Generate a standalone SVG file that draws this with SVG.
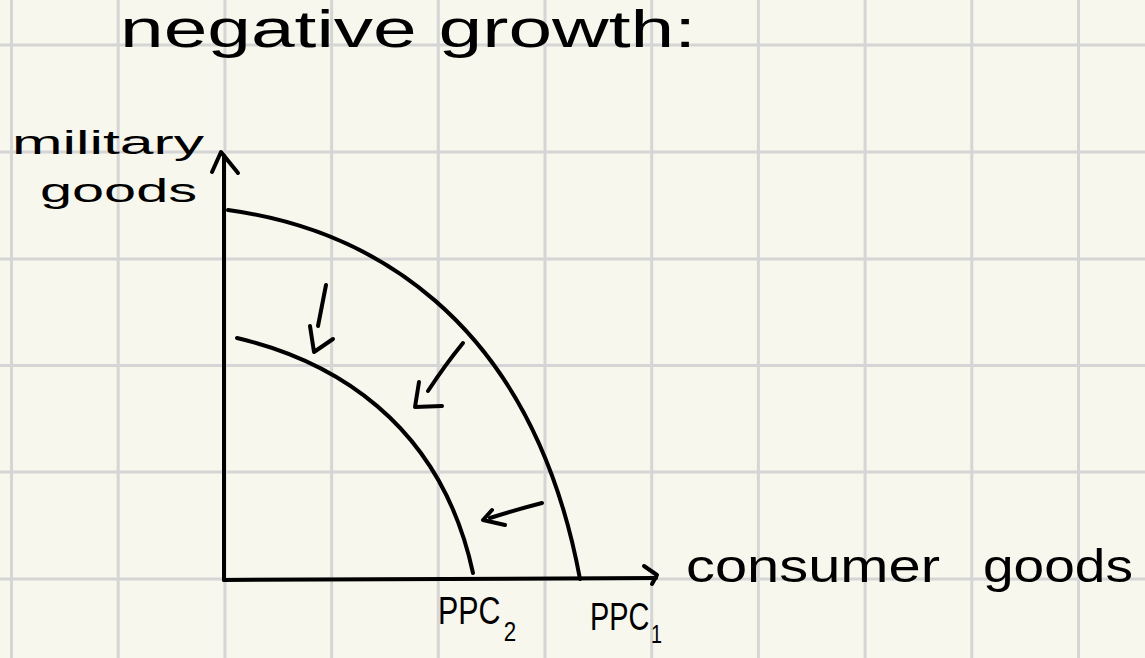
<svg xmlns="http://www.w3.org/2000/svg" width="1145" height="658" viewBox="0 0 1145 658">
  <style>
    .grid line { stroke: #d5d5d5; stroke-width: 3; }
    .ink { fill: none; stroke: #000; stroke-width: 4; stroke-linecap: round; stroke-linejoin: round; }
    .hand { font-family: "Liberation Sans", "Open Sans", sans-serif; fill: #000; font-weight: 400; }
  </style>
  <rect x="0" y="0" width="1145" height="658" fill="#f7f7ed"/>
  <g class="grid" id="grid">
    <line x1="11.5" y1="0" x2="11.5" y2="658"/>
    <line x1="118.2" y1="0" x2="118.2" y2="658"/>
    <line x1="224.9" y1="0" x2="224.9" y2="658"/>
    <line x1="331.6" y1="0" x2="331.6" y2="658"/>
    <line x1="438.3" y1="0" x2="438.3" y2="658"/>
    <line x1="545" y1="0" x2="545" y2="658"/>
    <line x1="651.7" y1="0" x2="651.7" y2="658"/>
    <line x1="758.4" y1="0" x2="758.4" y2="658"/>
    <line x1="865.1" y1="0" x2="865.1" y2="658"/>
    <line x1="971.8" y1="0" x2="971.8" y2="658"/>
    <line x1="1078.5" y1="0" x2="1078.5" y2="658"/>
    <line x1="0" y1="45" x2="1145" y2="45"/>
    <line x1="0" y1="152" x2="1145" y2="152"/>
    <line x1="0" y1="259" x2="1145" y2="259"/>
    <line x1="0" y1="365.5" x2="1145" y2="365.5"/>
    <line x1="0" y1="472" x2="1145" y2="472"/>
    <line x1="0" y1="579" x2="1145" y2="579"/>
  </g>

  <g id="title">
    <text class="hand" x="120" y="47" font-size="51" textLength="576" lengthAdjust="spacingAndGlyphs">negative growth:</text>
  </g>

  <g id="y-axis">
    <path class="ink" d="M224,580 L224,156"/>
    <path class="ink" d="M212,172 L221,152 L238,173"/>
    <text class="hand" x="12" y="154" font-size="33" textLength="192" lengthAdjust="spacingAndGlyphs">military</text>
    <text class="hand" x="40" y="202" font-size="33" textLength="157" lengthAdjust="spacingAndGlyphs">goods</text>
  </g>

  <g id="x-axis">
    <path class="ink" d="M224,580 L656,578"/>
    <path class="ink" d="M644,566 L657,575 L652,584"/>
    <text class="hand" x="686" y="582" font-size="47" textLength="254" lengthAdjust="spacingAndGlyphs">consumer</text>
    <text class="hand" x="983" y="582" font-size="47" textLength="150" lengthAdjust="spacingAndGlyphs">goods</text>
  </g>

  <g id="ppc1">
    <path class="ink" d="M228,210 C360,228 530,310 580,579"/>
    <text class="hand" transform="translate(590,630) scale(0.76,1)" font-size="38">PPC<tspan dx="2" dy="13" font-size="26">1</tspan></text>
  </g>

  <g id="ppc2">
    <path class="ink" d="M237,338 C330,360 440,420 473,573"/>
    <text class="hand" transform="translate(438,624) scale(0.8,1)" font-size="38">PPC<tspan dx="4" dy="17" font-size="28">2</tspan></text>
  </g>

  <g id="connectors">
    <path class="ink" d="M326,285 L318,326"/>
    <path class="ink" d="M310,326 L314,352 L333,339"/>
    <path class="ink" d="M463,343 Q445,365 428,391"/>
    <path class="ink" d="M419,382 L415,407 L442,406"/>
    <path class="ink" d="M542,503 Q515,510 490,518"/>
    <path class="ink" d="M492,510 L483,520 L505,525"/>
  </g>
</svg>
